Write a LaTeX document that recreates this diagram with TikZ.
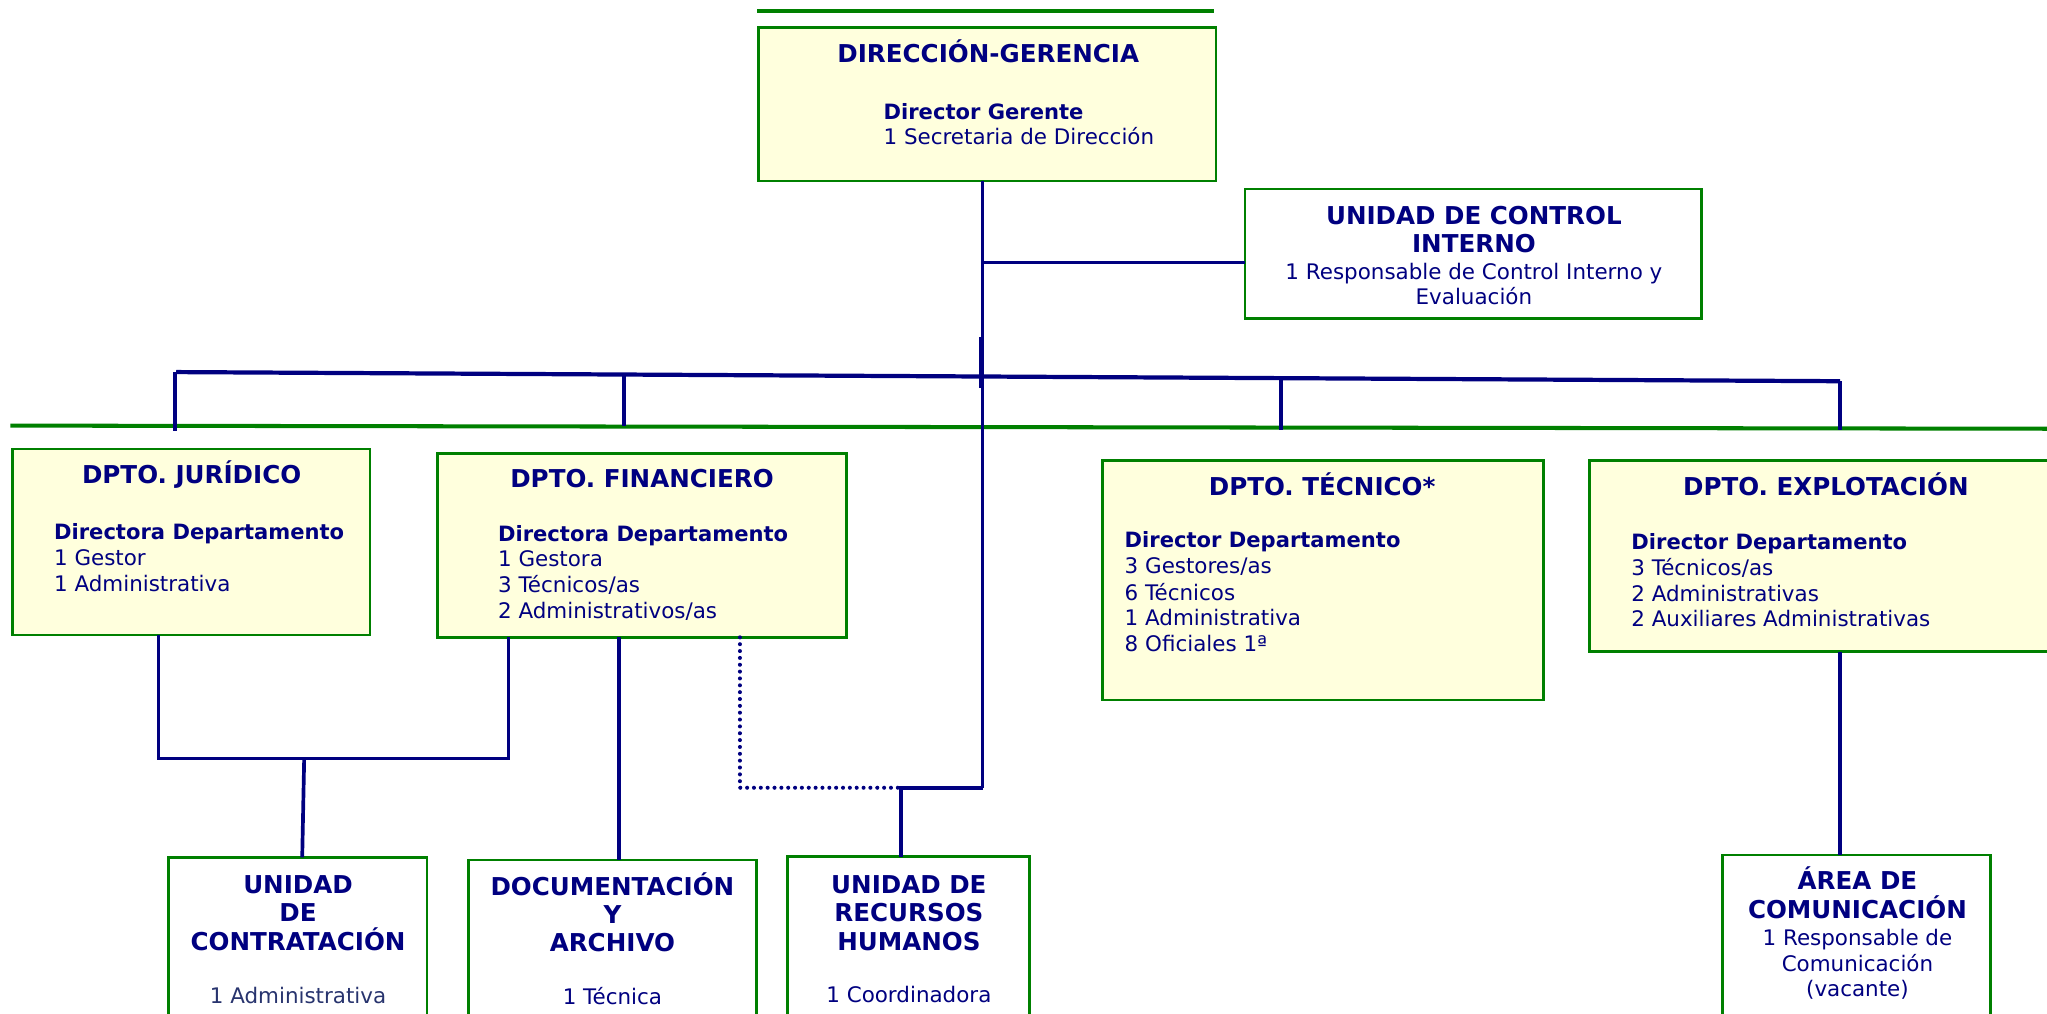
\documentclass[tikz,border=0pt]{standalone}
\usepackage{fontspec}
\setmainfont{DejaVu Sans}
\definecolor{navy}{RGB}{0,0,128}
\definecolor{ogreen}{RGB}{0,128,0}
\definecolor{pale}{RGB}{255,255,221}
\definecolor{slate}{RGB}{40,52,110}
\begin{document}
\begin{tikzpicture}[x=0.013055cm, y=-0.013055cm,
  box/.style={draw=ogreen, line width=0.75pt, inner sep=0pt, outer sep=0pt, anchor=north west},
  ybox/.style={box, fill=pale},
  wbox/.style={box, fill=white},
  sz/.style 2 args={minimum width=#1*0.013055cm, minimum height=#2*0.013055cm},
  ttl/.style={text=navy, font=\fontsize{7}{8}\selectfont\bfseries, inner sep=0pt, anchor=base},
  sub/.style={text=navy, font=\fontsize{6}{7}\selectfont\bfseries, inner sep=0pt, anchor=base west},
  txt/.style={text=navy, font=\fontsize{6.1}{7}\selectfont, inner sep=0pt, anchor=base west},
  ctxt/.style={txt, anchor=base},
  link/.style={draw=navy, line width=1.05pt},
  dots/.style={draw=navy, line width=1.15pt, dash pattern=on 0pt off 1.95pt, line cap=round},
  rule/.style={draw=ogreen, line width=1.15pt}
]
\clip (0,0) rectangle (1568,776);

% ---------- boxes ----------
\node[ybox, sz={350.5}{117.5}] (dg) at (581,21) {};
\node[wbox, sz={349.8}{99}] (uci) at (953.7,144.8) {};
\node[ybox, sz={273.7}{142.5}] (jur) at (9.7,343.9) {};
\node[ybox, sz={313.5}{141}] (fin) at (335,347.2) {};
\node[ybox, sz={337.8}{183.3}] (tec) at (844.4,352.9) {};
\node[ybox, sz={382.6}{146.3}] (exp) at (1217.4,352.9) {};
\node[wbox, sz={198}{143.3}] (con) at (129,656.7) {};
\node[wbox, sz={220.6}{141.2}] (doc) at (359,658.8) {};
\node[wbox, sz={185.4}{143.8}] (rrhh) at (603.1,656.2) {};
\node[wbox, sz={205.3}{145.1}] (com) at (1319.5,654.9) {};

% ---------- texts ----------
\node[ttl] (dgT) at (757,48) {DIRECCIÓN-GERENCIA};
\node[sub] (dg1) at (676.3,91.2) {Director Gerente};
\node[txt] (dg2) at (676.3,111) {1 Secretaria de Dirección};

\node[ttl] (uciT1) at (1129,172.3) {UNIDAD DE CONTROL};
\node[ttl] (uciT2) at (1129,193.6) {INTERNO};
\node[ctxt] (uci1) at (1129,214.3) {1 Responsable de Control Interno y};
\node[ctxt] (uci2) at (1129,233.6) {Evaluación};

\node[ttl] (jurT) at (146.8,370.2) {DPTO. JURÍDICO};
\node[sub] (jur1) at (40.9,413.6) {Directora Departamento};
\node[txt] (jur2) at (40.9,433.3) {1 Gestor};
\node[txt] (jur3) at (40.9,453.2) {1 Administrativa};

\node[ttl] (finT) at (491.8,373.6) {DPTO. FINANCIERO};
\node[sub] (fin1) at (381,414.4) {Directora Departamento};
\node[txt] (fin2) at (381,434.3) {1 Gestora};
\node[txt] (fin3) at (381,454) {3 Técnicos/as};
\node[txt] (fin4) at (381,473.9) {2 Administrativos/as};

\node[ttl] (tecT) at (1012.8,379.2) {DPTO. TÉCNICO*};
\node[sub] (tec1) at (861,419.3) {Director Departamento};
\node[txt] (tec2) at (861,439.2) {3 Gestores/as};
\node[txt] (tec3) at (861,459.6) {6 Técnicos};
\node[txt] (tec4) at (861,479.3) {1 Administrativa};
\node[txt] (tec5) at (861,499.2) {8 Oficiales 1ª};

\node[ttl] (expT) at (1398.6,379.2) {DPTO. EXPLOTACIÓN};
\node[sub] (exp1) at (1249.1,420.8) {Director Departamento};
\node[txt] (exp2) at (1249.1,441) {3 Técnicos/as};
\node[txt] (exp3) at (1249.1,460.9) {2 Administrativas};
\node[txt] (exp4) at (1249.1,480) {2 Auxiliares Administrativas};

\node[ttl] (conT1) at (228.3,684.3) {UNIDAD};
\node[ttl] (conT2) at (228.3,706) {DE};
\node[ttl] (conT3) at (228.3,727.7) {CONTRATACIÓN};
\node[ctxt, text=slate] (con1) at (228.3,768.5) {1 Administrativa};

\node[ttl] (docT1) at (469.1,685.6) {DOCUMENTACIÓN};
\node[ttl] (docT2) at (469.1,707.3) {Y};
\node[ttl] (docT3) at (469.1,729) {ARCHIVO};
\node[ctxt] (doc1) at (469.1,769.8) {1 Técnica};

\node[ttl] (rrhhT1) at (696.2,684.3) {UNIDAD DE};
\node[ttl] (rrhhT2) at (696.2,706) {RECURSOS};
\node[ttl] (rrhhT3) at (696.2,727.7) {HUMANOS};
\node[ctxt] (rrhh1) at (696.2,768) {1 Coordinadora};

\node[ttl] (comT1) at (1422.8,681.7) {ÁREA DE};
\node[ttl] (comT2) at (1422.8,703.4) {COMUNICACIÓN};
\node[ctxt] (com1) at (1422.8,724.6) {1 Responsable de};
\node[ctxt] (com2) at (1422.8,744.3) {Comunicación};
\node[ctxt] (com3) at (1422.8,763.4) {(vacante)};

% ---------- guide coordinates ----------
\coordinate (tgL) at (580,8.6);
\coordinate (tgR) at (930,8.6);
\coordinate (gL) at (8,326);
\coordinate (gR) at (1568,328.4);
\coordinate (sp) at (752.7,0);
\coordinate (stA) at (751,258);
\coordinate (stB) at (751,297);
\coordinate (uj) at (0,201);
\coordinate (barL) at (135,285);
\coordinate (barR) at (1409.5,292);
\coordinate (d1a) at (134,285);   \coordinate (d1b) at (134,330);
\coordinate (d2a) at (478,286.9); \coordinate (d2b) at (478,326.5);
\coordinate (d3a) at (981,289.6); \coordinate (d3b) at (981,329.5);
\coordinate (d4a) at (1409.5,292);\coordinate (d4b) at (1409.5,329.5);
\coordinate (jx) at (121.3,0);
\coordinate (fx) at (389.5,0);
\coordinate (jfy) at (0,581);
\coordinate (cj) at (233,581);
\coordinate (ccx) at (231.5,0);
\coordinate (fdx) at (474,0);
\coordinate (dx) at (566.8,0);
\coordinate (rj) at (690.2,603.4);
\coordinate (ecx) at (1409.5,0);

% ---------- green rules ----------
\draw[rule] (tgL) -- (tgR);
\draw[rule] (gL) -- (gR);

% ---------- connectors ----------
\draw[link] (dg.south -| sp) -- (sp |- rj);
\draw[link, line width=0.6pt] (stA) -- (stB);
\draw[link] (sp |- uj) -- (uci.west |- uj);
\draw[link, line width=1.2pt] (barL) -- (barR);
\draw[link] (d1a) -- (d1b);
\draw[link] (d2a) -- (d2b);
\draw[link] (d3a) -- (d3b);
\draw[link] (d4a) -- (d4b);
\draw[link] (jur.south -| jx) -- (jx |- jfy) -- (fx |- jfy) -- (fin.south -| fx);
\draw[link] (cj) -- (con.north -| ccx);
\draw[link] (fin.south -| fdx) -- (doc.north -| fdx);
\draw[dots] (fin.south -| dx) |- (rj);
\draw[link] (sp |- rj) -- (rj) -- (rrhh.north -| rj);
\draw[link] (exp.south -| ecx) -- (com.north -| ecx);
\end{tikzpicture}
\end{document}
